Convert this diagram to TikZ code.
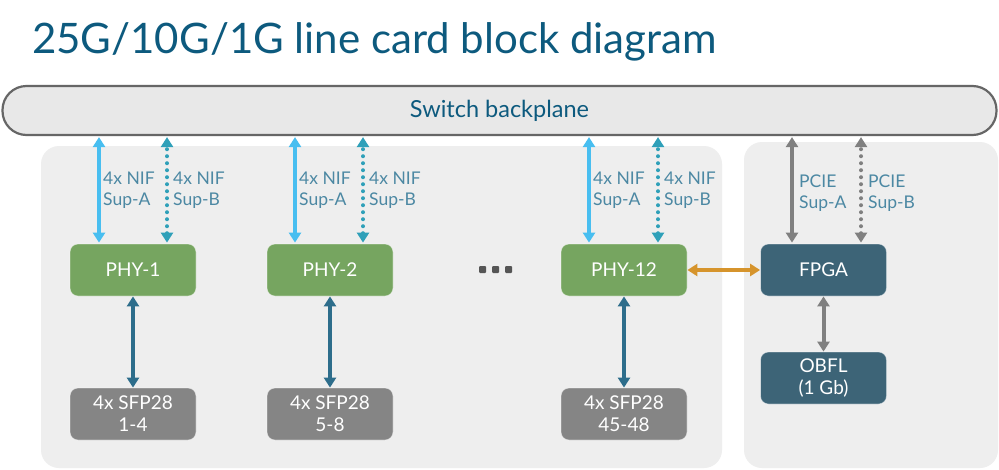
\documentclass[tikz,border=0pt]{standalone}
\usepackage{fontspec}
\setmainfont{Lato}
\usetikzlibrary{arrows.meta,calc}
\definecolor{titlec}{HTML}{0D5A7E}
\definecolor{bpfill}{HTML}{E8E8E8}
\definecolor{bpline}{HTML}{666666}
\definecolor{panel}{HTML}{EEEEEE}
\definecolor{phyc}{HTML}{76A560}
\definecolor{fpgac}{HTML}{3D6477}
\definecolor{sfpc}{HTML}{858585}
\definecolor{skyc}{HTML}{48BEF0}
\definecolor{tealc}{HTML}{2FA0B9}
\definecolor{darkc}{HTML}{2D6D8B}
\definecolor{grayc}{HTML}{808080}
\definecolor{orangec}{HTML}{D6942C}
\definecolor{labc}{HTML}{4C88A3}
\definecolor{dotc}{HTML}{555555}
\tikzset{
  >={Triangle[width=12pt,length=10pt]},
  box/.style={minimum width=126pt,minimum height=52pt,rounded corners=8pt,inner sep=0pt,
    text=white,align=center,font=\fontsize{19pt}{22pt}\selectfont,draw=white,draw opacity=0.45,line width=0.8pt},
  phybox/.style={box,fill=phyc},
  fpgabox/.style={box,fill=fpgac},
  sfpbox/.style={box,fill=sfpc},
  solA/.style={line width=4pt,color=skyc,<->},
  dotB/.style={line width=4pt,color=tealc,line cap=round,dash pattern=on 0pt off 7pt,<->},
  link/.style={line width=4pt,color=darkc,<->},
  gsol/.style={line width=4pt,color=grayc,<->},
  gdot/.style={line width=4pt,color=grayc,line cap=round,dash pattern=on 0pt off 7pt,<->},
  olink/.style={line width=4pt,color=orangec,<->},
  lab/.style={anchor=west,align=left,text=labc,inner sep=0pt,font=\fontsize{17.5pt}{21pt}\selectfont},
  dotsq/.style={fill=dotc,minimum size=7pt,inner sep=0pt,rounded corners=1pt}
}
\begin{document}
\begin{tikzpicture}[x=1pt,y=-1pt]
\useasboundingbox[fill=white] (0,0) rectangle (999,469);
% title
\node[anchor=base west,inner sep=0pt,text=titlec,font=\fontsize{42pt}{48pt}\selectfont] (title) at (32,53) {25G/10G/1G line card block diagram};
% panels
\node[fill=panel,rounded corners=18pt,minimum width=681pt,minimum height=322pt,inner sep=0pt] (lpanel) at (381.5,307) {};
\node[fill=panel,rounded corners=18pt,minimum width=254pt,minimum height=326pt,inner sep=0pt] (rpanel) at (871,305) {};
% backplane
\node[fill=bpfill,draw=bpline,line width=2.2pt,rounded corners=24pt,minimum width=994pt,minimum height=49pt,inner sep=0pt,
  text=titlec,font=\fontsize{23.5pt}{27pt}\selectfont] (bp) at (499.5,110.5) {Switch backplane};
% boxes
\node[phybox] (phy1) at (133,270) {PHY-1};
\node[phybox] (phy2) at (330,270) {PHY-2};
\node[phybox] (phy12) at (624,270) {PHY-12};
\node[fpgabox] (fpga) at (823.5,270) {FPGA};
\node[fpgabox] (obfl) at (823.5,378) {OBFL\\(1 Gb)};
\node[sfpbox] (sfp1) at (133,414) {4x SFP28\\1-4};
\node[sfpbox] (sfp2) at (330,414) {4x SFP28\\5-8};
\node[sfpbox] (sfp12) at (624,414) {4x SFP28\\45-48};
% ellipsis
\node[dotsq] (e1) at (482.5,269.5) {};
\node[dotsq] (e2) at (495.5,269.5) {};
\node[dotsq] (e3) at (508.5,269.5) {};
% up links
\coordinate (a1) at ([xshift=-34pt]phy1.north);
\coordinate (b1) at ([xshift=34pt]phy1.north);
\coordinate (a2) at ([xshift=-35pt]phy2.north);
\coordinate (b2) at ([xshift=33pt]phy2.north);
\coordinate (a12) at ([xshift=-35pt]phy12.north);
\coordinate (b12) at ([xshift=34pt]phy12.north);
\coordinate (af) at ([xshift=-31.5pt]fpga.north);
\coordinate (bf) at ([xshift=37.5pt]fpga.north);
\foreach \n in {1,2,12}{
  \draw[solA] ([yshift=1pt]a\n) -- ([yshift=-1pt]a\n |- bp.south);
  \draw[dotB] ([yshift=1pt]b\n) -- ([yshift=-1pt]b\n |- bp.south);
  \node[lab] at ([xshift=4pt,yshift=53pt]a\n) {4x NIF\\Sup-A};
  \node[lab] at ([xshift=6pt,yshift=53pt]b\n) {4x NIF\\Sup-B};
}
\draw[gsol] ([yshift=1pt]af) -- ([yshift=-1pt]af |- bp.south);
\draw[gdot] ([yshift=1pt]bf) -- ([yshift=-1pt]bf |- bp.south);
\node[lab] at ([xshift=7pt,yshift=50pt]af) {PCIE\\Sup-A};
\node[lab] at ([xshift=7pt,yshift=50pt]bf) {PCIE\\Sup-B};
% down links
\draw[link] (phy1.south) -- (sfp1.north);
\draw[link] (phy2.south) -- (sfp2.north);
\draw[link] (phy12.south) -- (sfp12.north);
\draw[gsol] (fpga.south) -- (obfl.north);
\draw[olink] (phy12.east) -- (fpga.west);
\end{tikzpicture}
\end{document}
